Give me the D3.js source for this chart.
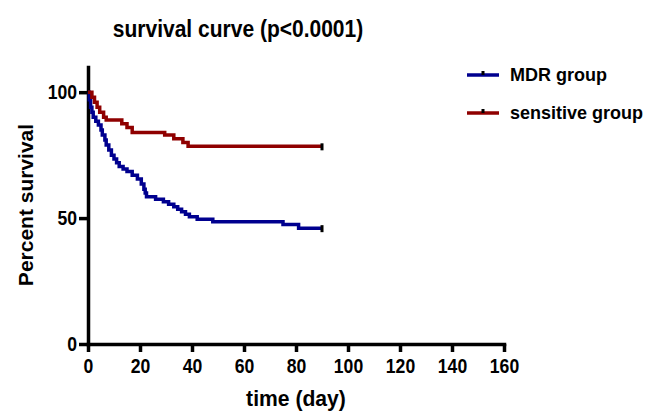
<!DOCTYPE html>
<html>
<head>
<meta charset="utf-8">
<script src="https://cdn.jsdelivr.net/npm/d3@7"></script>
<style>
  body { margin: 0; background: #fff; }
  svg text { font-family: "Liberation Sans", Arial, sans-serif; font-weight: bold; }
</style>
</head>
<body>
<div id="chart"></div>
<script>
// Kaplan-Meier steps (time in days, percent survival)
const mdrTime = [0, 0.5, 1, 1.5, 2, 3, 4, 5, 5.5, 6.5, 7, 8, 9, 10, 11, 12, 13.5, 15, 17, 19, 20.5, 21.5, 22, 22.5, 26, 29, 31, 33, 34.5, 36, 37.5, 39, 42, 48, 75, 81, 90]
const mdrSurv = [100, 97, 94, 92, 90, 88.5, 87, 85, 83, 81, 79, 77, 75, 73.5, 72, 70.5, 69.5, 68.5, 67, 65.5, 63.5, 61.5, 60, 58.5, 57.5, 56.5, 55.5, 54.5, 53.5, 52.5, 51.5, 50.5, 49.5, 48.5, 47.5, 46, 46]

const sensTime = [0, 1.5, 2.5, 3.5, 4.5, 6, 7, 13, 15, 17, 29.5, 33, 36.5, 38.5, 90]
const sensSurv = [100, 98, 96, 94, 92, 90, 89, 87.5, 86, 84, 83, 81.5, 80, 78.5, 78.5]

const groups = ["MDR group", "sensitive group"]
const groupColors = ["#00008f", "#8f0000"]
const xTicks = [0, 20, 40, 60, 80, 100, 120, 140, 160]
const yTicks = [0, 50, 100]

const W = 651, H = 413

const svg = d3.select("#chart").append("svg")
	.attr("width", W)
	.attr("height", H)

const x = d3.scaleLinear().domain([0, 160]).range([88, 504])
const y = d3.scaleLinear().domain([0, 110]).range([344, 67])

// the original font is a bit narrower than Arial, squeeze the glyphs
function condense(sel, k) {
	sel.each(function() {
		const len = this.getComputedTextLength()
		d3.select(this).attr("textLength", len * k).attr("lengthAdjust", "spacingAndGlyphs")
	})
}

// title
svg.append("text")
	.attr("x", 238).attr("y", 37)
	.attr("text-anchor", "middle")
	.attr("font-size", 24)
	.text("survival curve (p<0.0001)")
	.call(condense, 0.875)

// axes
const xAxis = svg.append("g")
	.attr("transform", `translate(0, ${y(0)})`)
	.call(d3.axisBottom(x).tickValues(xTicks).tickSize(8).tickSizeOuter(0).tickPadding(5))
const yAxis = svg.append("g")
	.attr("transform", `translate(${x(0)}, 0)`)
	.call(d3.axisLeft(y).tickValues(yTicks).tickSize(9).tickSizeOuter(0).tickPadding(2))

;[xAxis, yAxis].forEach(a => {
	a.select(".domain").attr("stroke", "#000").attr("stroke-width", 3.5).attr("stroke-linecap", "square")
	a.selectAll(".tick line").attr("stroke", "#000").attr("stroke-width", 3.5)
	a.selectAll(".tick text").attr("fill", "#000").attr("font-size", 20)
		.style("font-family", '"Liberation Sans", Arial, sans-serif').style("font-weight", "bold")
		.call(condense, 0.88)
})
xAxis.selectAll(".tick text").attr("dy", "0.78em")

svg.append("text")
	.attr("x", 296).attr("y", 406)
	.attr("text-anchor", "middle")
	.attr("font-size", 22)
	.text("time (day)")
	.call(condense, 0.96)

svg.append("text")
	.attr("transform", "translate(33, 205) rotate(-90)")
	.attr("text-anchor", "middle")
	.attr("font-size", 21)
	.text("Percent survival")

// curves
const series = [
	d3.zip(mdrTime, mdrSurv),
	d3.zip(sensTime, sensSurv)
]

const line = d3.line()
	.x(d => x(d[0]))
	.y(d => y(d[1]))
	.curve(d3.curveStepAfter)

series.forEach((s, i) => {
	svg.append("path")
		.datum(s)
		.attr("fill", "none")
		.attr("stroke", groupColors[i])
		.attr("stroke-width", 3.5)
		.attr("d", line)
	// censor mark at the last point
	const last = s[s.length - 1]
	svg.append("rect")
		.attr("x", x(last[0]) - 1.5)
		.attr("y", y(last[1]) - 3)
		.attr("width", 3)
		.attr("height", 7)
		.attr("fill", "#000")
})

// legend
const legend = svg.append("g")
const legY = [75, 113]
groups.forEach((g, i) => {
	legend.append("line")
		.attr("x1", 467).attr("x2", 499)
		.attr("y1", legY[i]).attr("y2", legY[i])
		.attr("stroke", groupColors[i])
		.attr("stroke-width", 3.5)
	legend.append("rect")
		.attr("x", 481.5).attr("y", legY[i] - 4)
		.attr("width", 3).attr("height", 4)
		.attr("fill", "#000")
	legend.append("text")
		.attr("x", 510).attr("y", legY[i] + 6)
		.attr("font-size", 18)
		.text(g)
})
</script>
</body>
</html>
